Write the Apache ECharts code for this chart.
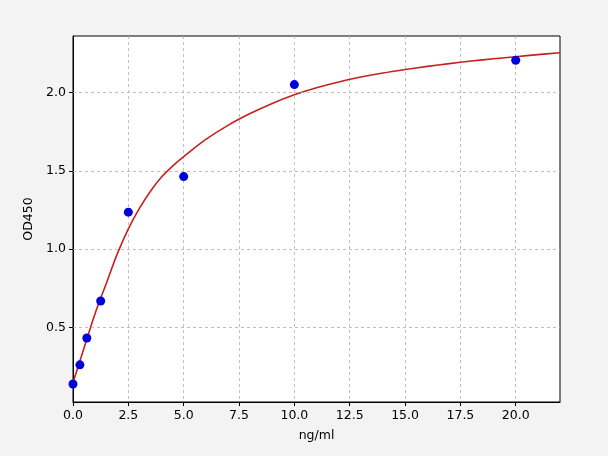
<!DOCTYPE html>
<html>
<head>
<meta charset="utf-8">
<script src="https://cdn.jsdelivr.net/npm/echarts@6/dist/echarts.min.js"></script>
<style>
  html, body {margin:0; padding:0; background:#f3f3f3;}
  #chart {width:608px; height:456px;}
</style>
</head>
<body>
<div id="chart"></div>
<script>
// standard points
const concentrations = [0, 0.3125, 0.625, 1.25, 2.5, 5, 10, 20];
const odValues = [0.14, 0.262, 0.433, 0.669, 1.236, 1.463, 2.05, 2.205];

// fitted curve
const curveX = [0, 0.5, 1, 1.5, 2, 2.5, 3, 3.5, 4, 4.5, 5, 6, 7, 8, 9, 10, 11, 12, 13, 14, 15, 16, 17, 18, 19, 20, 21, 22];
const curveY = [0.15, 0.37, 0.59, 0.78, 0.97, 1.13, 1.26, 1.37, 1.46, 1.53, 1.59, 1.70, 1.79, 1.865, 1.93, 1.985, 2.03, 2.067, 2.098, 2.124, 2.146, 2.166, 2.184, 2.2, 2.215, 2.228, 2.241, 2.253];

const xTicks = [0, 2.5, 5, 7.5, 10, 12.5, 15, 17.5, 20];
const yTicks = [0.5, 1.0, 1.5, 2.0];

let chart = echarts.init(document.getElementById('chart'));
let font = 'DejaVu Sans';
let gridLine = {show:true, lineStyle:{color:'#b0b0b0', type:[3, 3], width:0.8}};

chart.setOption({
    backgroundColor:'#f3f3f3',
    animation:false,
    textStyle:{fontFamily:font},
    grid:{left:73, right:48, top:36, bottom:54, show:true, backgroundColor:'#fff', borderColor:'#000', borderWidth:1},
    xAxis:{
        type:'value', min:0, max:22, interval:2.5,
        name:'ng/ml', nameLocation:'middle', nameGap:27,
        nameTextStyle:{fontSize:12.5, color:'#000', fontFamily:font},
        axisLine:{show:true, onZero:false, lineStyle:{color:'#000', width:1}},
        axisTick:{show:true, length:4, lineStyle:{color:'#000'}, customValues:xTicks},
        axisLabel:{fontSize:12.5, color:'#000', fontFamily:font, margin:7, customValues:xTicks, formatter:v => v.toFixed(1)},
        splitLine:gridLine
    },
    yAxis:{
        type:'value', min:0.025, max:2.36,
        name:'OD450', nameLocation:'middle', nameGap:36,
        nameTextStyle:{fontSize:12.5, color:'#000', fontFamily:font},
        axisLine:{show:true, onZero:false, lineStyle:{color:'#000', width:1}},
        axisTick:{show:true, length:4, lineStyle:{color:'#000'}, customValues:yTicks},
        axisLabel:{fontSize:12.5, color:'#000', fontFamily:font, margin:7, customValues:yTicks, formatter:v => v.toFixed(1)},
        splitLine:{show:false}
    },
    series:[
        {
            type:'line',
            data:curveX.map((x, i) => [x, curveY[i]]),
            smooth:0.35,
            smoothConstraint:false,
            showSymbol:false,
            lineStyle:{color:'#c8201f', width:1.6},
            z:3
        },
        {
            type:'scatter',
            data:concentrations.map((x, i) => [x, odValues[i]]),
            symbolSize:9,
            itemStyle:{color:'#0000d8', opacity:1},
            z:4
        },
        {
            // horizontal grid lines at the y ticks
            type:'line',
            data:[],
            markLine:{
                silent:true, symbol:'none', label:{show:false},
                lineStyle:{color:'#b0b0b0', type:[3, 3], width:0.8},
                data:yTicks.map(v => ({yAxis:v}))
            },
            z:1
        }
    ]
});
</script>
</body>
</html>
